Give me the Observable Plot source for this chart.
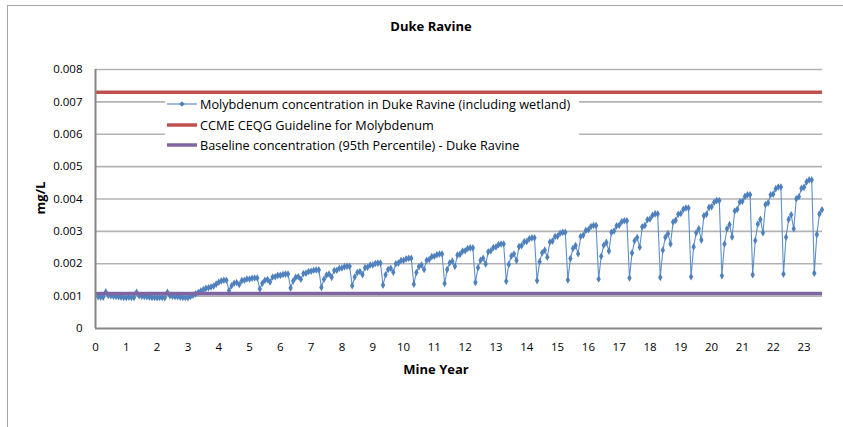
<!DOCTYPE html>
<html>
<head>
<meta charset="utf-8">
<script src="https://cdn.jsdelivr.net/npm/d3@7"></script>
<script src="https://cdn.jsdelivr.net/npm/@observablehq/plot@0.6"></script>
<style>
  html, body { margin: 0; padding: 0; background: #fff; }
  #wrap { position: relative; width: 843px; height: 427px; overflow: hidden; font-family: "Open Sans", Lato, sans-serif; }
  #frame { position: absolute; left: 7px; top: 5px; width: 1000px; height: 1000px; border: 1px solid #a6a6a6; box-sizing: border-box; }
  #chart { position: absolute; left: 0; top: 0; }
  .t { position: absolute; white-space: nowrap; color: #000; }
  #title { left: 0; width: 862px; text-align: center; top: 17px; font-weight: bold; font-size: 13px; }
  #xlab { left: 0; width: 872px; text-align: center; top: 360px; font-weight: bold; font-size: 13px; }
  #ylab { left: 40px; top: 198px; font-weight: bold; font-size: 13px; transform: translate(-50%, -50%) rotate(-90deg); }
  #legend { position: absolute; left: 165px; top: 94px; width: 414px; height: 62px; background: #fff; }
  .row { position: absolute; left: 2px; height: 20px; display: flex; align-items: center; font-size: 12.7px; }
  .row svg { margin-right: 3px; }
</style>
</head>
<body>
<div id="wrap">
  <div id="frame"></div>
  <div id="chart"></div>
  <div id="legend"></div>
  <div class="t" id="title">Duke Ravine</div>
  <div class="t" id="ylab">mg/L</div>
  <div class="t" id="xlab">Mine Year</div>
</div>
<script>
// Monthly molybdenum concentration (mg/L), one array per mine year
const year0  = [0.00098, 0.00097, 0.00097, 0.00113, 0.00102, 0.00101, 0.00100, 0.00099, 0.00098, 0.00097, 0.00096, 0.00096];
const year1  = [0.00097, 0.00096, 0.00096, 0.00112, 0.00101, 0.00100, 0.00099, 0.00098, 0.00097, 0.00096, 0.00096, 0.00095];
const year2  = [0.00096, 0.00096, 0.00095, 0.00112, 0.00101, 0.00100, 0.00099, 0.00098, 0.00097, 0.00096, 0.00096, 0.00095];
const year3  = [0.00099, 0.00103, 0.00107, 0.00111, 0.00116, 0.00120, 0.00124, 0.00126, 0.00128, 0.00131, 0.00137, 0.00143];
const year4  = [0.00147, 0.00149, 0.00149, 0.00117, 0.00132, 0.00140, 0.00142, 0.00136, 0.00148, 0.00149, 0.00153, 0.00153];
const year5  = [0.00155, 0.00156, 0.00156, 0.00122, 0.00140, 0.00149, 0.00151, 0.00144, 0.00159, 0.00160, 0.00164, 0.00164];
const year6  = [0.00167, 0.00168, 0.00168, 0.00125, 0.00147, 0.00158, 0.00160, 0.00152, 0.00170, 0.00171, 0.00176, 0.00177];
const year7  = [0.00180, 0.00181, 0.00181, 0.00127, 0.00152, 0.00165, 0.00168, 0.00158, 0.00179, 0.00180, 0.00186, 0.00187];
const year8  = [0.00191, 0.00192, 0.00192, 0.00132, 0.00159, 0.00173, 0.00176, 0.00166, 0.00188, 0.00189, 0.00196, 0.00196];
const year9  = [0.00201, 0.00202, 0.00202, 0.00134, 0.00166, 0.00182, 0.00186, 0.00174, 0.00200, 0.00202, 0.00210, 0.00210];
const year10 = [0.00215, 0.00217, 0.00217, 0.00137, 0.00173, 0.00191, 0.00196, 0.00182, 0.00211, 0.00213, 0.00222, 0.00223];
const year11 = [0.00228, 0.00230, 0.00230, 0.00139, 0.00182, 0.00203, 0.00208, 0.00192, 0.00227, 0.00229, 0.00239, 0.00240];
const year12 = [0.00247, 0.00249, 0.00249, 0.00142, 0.00188, 0.00211, 0.00217, 0.00199, 0.00237, 0.00240, 0.00250, 0.00252];
const year13 = [0.00259, 0.00261, 0.00261, 0.00146, 0.00198, 0.00224, 0.00230, 0.00210, 0.00253, 0.00256, 0.00268, 0.00269];
const year14 = [0.00277, 0.00280, 0.00280, 0.00148, 0.00206, 0.00234, 0.00242, 0.00220, 0.00267, 0.00270, 0.00284, 0.00285];
const year15 = [0.00294, 0.00297, 0.00297, 0.00150, 0.00216, 0.00247, 0.00256, 0.00231, 0.00284, 0.00288, 0.00303, 0.00305];
const year16 = [0.00315, 0.00318, 0.00318, 0.00153, 0.00223, 0.00257, 0.00266, 0.00239, 0.00297, 0.00301, 0.00317, 0.00319];
const year17 = [0.00330, 0.00333, 0.00333, 0.00156, 0.00233, 0.00271, 0.00281, 0.00251, 0.00314, 0.00318, 0.00336, 0.00338];
const year18 = [0.00350, 0.00354, 0.00354, 0.00158, 0.00242, 0.00282, 0.00293, 0.00261, 0.00329, 0.00334, 0.00353, 0.00355];
const year19 = [0.00368, 0.00372, 0.00372, 0.00160, 0.00252, 0.00296, 0.00308, 0.00273, 0.00348, 0.00353, 0.00374, 0.00376];
const year20 = [0.00390, 0.00395, 0.00395, 0.00163, 0.00261, 0.00308, 0.00321, 0.00283, 0.00363, 0.00368, 0.00391, 0.00393];
const year21 = [0.00408, 0.00413, 0.00413, 0.00166, 0.00272, 0.00323, 0.00337, 0.00296, 0.00383, 0.00388, 0.00413, 0.00415];
const year22 = [0.00432, 0.00437, 0.00437, 0.00168, 0.00282, 0.00337, 0.00351, 0.00308, 0.00401, 0.00407, 0.00433, 0.00436];
const year23 = [0.00453, 0.00459, 0.00459, 0.00171, 0.00290, 0.00354, 0.00367];

const ccmeGuideline = 0.0073;     // CCME CEQG guideline for molybdenum
const baseline95th  = 0.00108;    // Baseline concentration (95th percentile)

const yearTicks = [0,1,2,3,4,5,6,7,8,9,10,11,12,13,14,15,16,17,18,19,20,21,22,23];
const concTicks = [0, 0.001, 0.002, 0.003, 0.004, 0.005, 0.006, 0.007, 0.008];

const seriesNames = [
  "Molybdenum concentration in Duke Ravine (including wetland)",
  "CCME CEQG Guideline for Molybdenum",
  "Baseline concentration (95th Percentile) - Duke Ravine"
];
const seriesColors = ["#4F81BD", "#C0504D", "#8064A2"];

const years = [year0,year1,year2,year3,year4,year5,year6,year7,year8,year9,year10,year11,
               year12,year13,year14,year15,year16,year17,year18,year19,year20,year21,year22,year23];
const molybdenum = years.flat().map((v, i) => ({month: (i + 1) / 12, value: v}));

const chart = Plot.plot({
  width: 843,
  height: 427,
  marginLeft: 95,
  marginRight: 21,
  marginTop: 69,
  marginBottom: 99,
  style: {fontFamily: "'Open Sans', Lato, sans-serif", fontSize: "11px", color: "#000", background: "transparent"},
  x: {domain: [0, 23.6], label: null},
  y: {domain: [0, 0.008], label: null},
  marks: [
    Plot.gridY(concTicks.filter(d => d > 0), {stroke: "#b3b3b3", strokeWidth: 1.6, strokeOpacity: 1}),
    Plot.line(molybdenum, {x: "month", y: "value", stroke: "#5f8fcb", strokeWidth: 1.1}),
    Plot.dot(molybdenum, {x: "month", y: "value", symbol: "diamond", r: 2.3, fill: seriesColors[0], stroke: "none"}),
    Plot.ruleY([ccmeGuideline], {stroke: seriesColors[1], strokeWidth: 3.5}),
    Plot.ruleY([baseline95th], {stroke: seriesColors[2], strokeWidth: 3.5}),
    Plot.ruleX([0], {stroke: "#868686", strokeWidth: 2}),
    Plot.ruleY([0], {stroke: "#868686", strokeWidth: 2}),
    Plot.axisX(yearTicks, {tickSize: 0, tickPadding: 14, tickFormat: d => String(d), label: null, fontSize: 11.5}),
    Plot.axisY(concTicks, {tickSize: 0, tickPadding: 13, tickFormat: d => d === 0 ? "0" : d3.format(".3f")(d), label: null, fontSize: 11.5})
  ]
});
document.getElementById("chart").appendChild(chart);

// Legend
const legend = document.getElementById("legend");
const swatches = [
  `<svg width="30" height="8"><line x1="0" y1="4" x2="30" y2="4" stroke="#5f8fcb" stroke-width="1.2"/><path d="M15,1.2 L17.8,4 L15,6.8 L12.2,4 Z" fill="${seriesColors[0]}"/></svg>`,
  `<svg width="30" height="8"><line x1="0" y1="4" x2="30" y2="4" stroke="${seriesColors[1]}" stroke-width="3.5"/></svg>`,
  `<svg width="30" height="8"><line x1="0" y1="4" x2="30" y2="4" stroke="${seriesColors[2]}" stroke-width="3.5"/></svg>`
];
seriesNames.forEach((name, i) => {
  const row = document.createElement("div");
  row.className = "row";
  row.style.top = (i * 20.5) + "px";
  row.innerHTML = swatches[i] + `<span>${name}</span>`;
  legend.appendChild(row);
});
</script>
</body>
</html>
